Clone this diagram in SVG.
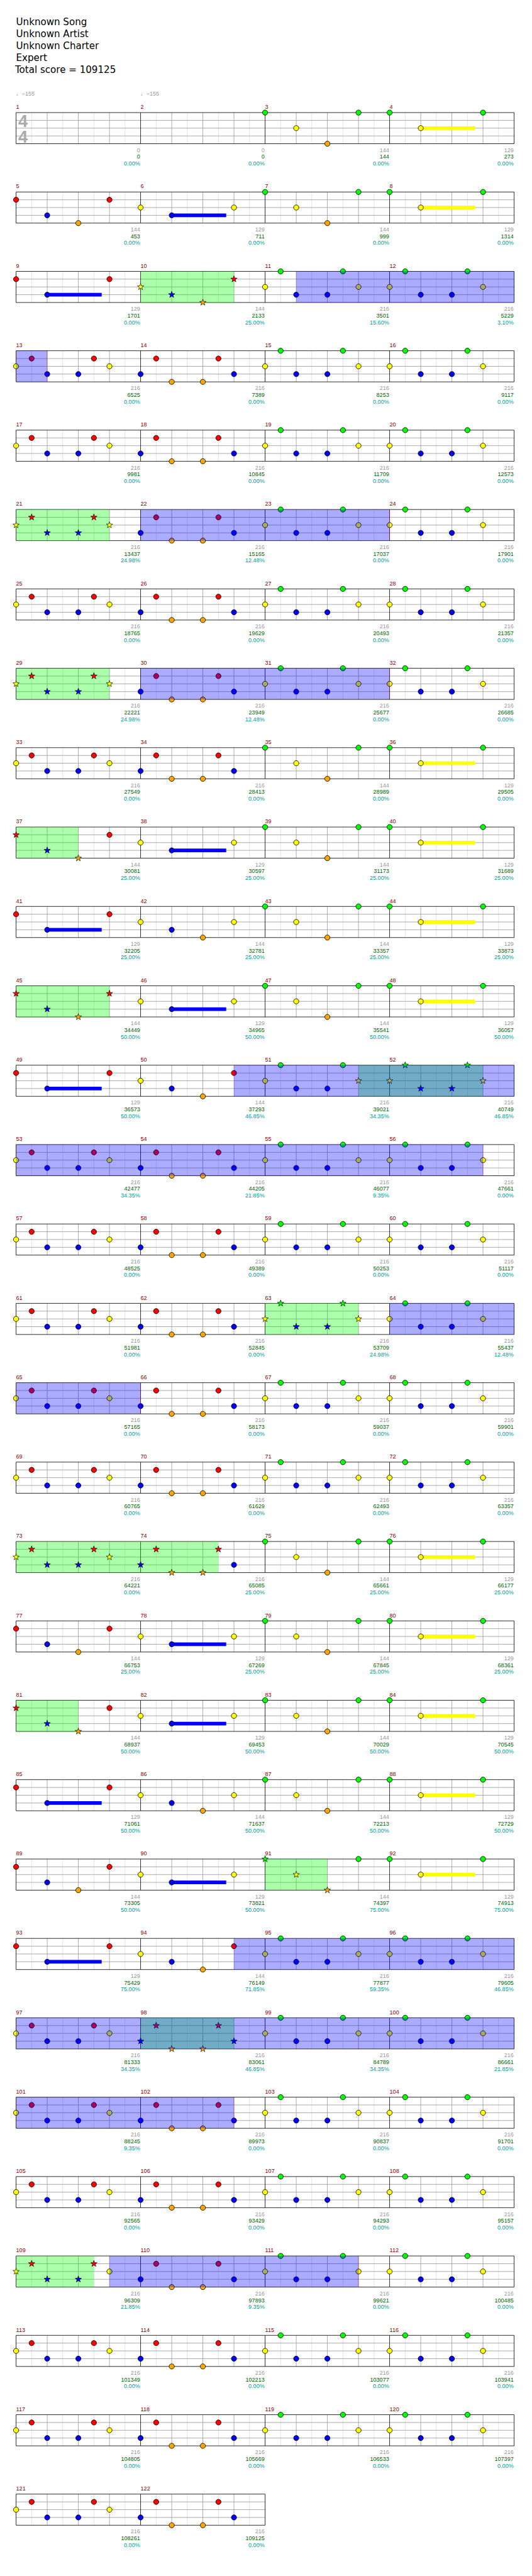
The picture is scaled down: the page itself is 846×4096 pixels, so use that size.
<svg xmlns="http://www.w3.org/2000/svg" width="846" height="4096" viewBox="0 0 846 4096">
<style>
.t{font-family:"DejaVu Sans",sans-serif;font-size:18.3px;fill:#000}
.tp{font-family:"Liberation Sans","DejaVu Sans",sans-serif;font-size:11px;fill:#999}
.ts{font-family:"Liberation Sans",Arial,sans-serif;font-size:33px;font-weight:bold;fill:#aaa}
.mn{font-family:"Liberation Sans",Arial,sans-serif;font-size:11px;fill:#8b0000}
.sc{font-family:"Liberation Sans",Arial,sans-serif;font-size:11px;text-anchor:end}
.a{fill:#999}.b{fill:#006400}.c{fill:#009999}
.G{fill:#00ff00}.R{fill:#ff0000}.Y{fill:#ffff00}.B{fill:#0000ff}.O{fill:#ffa500}
.gl{stroke:#999;stroke-width:1;fill:none}.ll{stroke:#ddd;stroke-width:1;fill:none}.bl{stroke:#000;stroke-width:1;fill:none}
.sp{fill:#00ff00;fill-opacity:.33}
.od{fill:#0000ff;fill-opacity:.33}
.oe{stroke:#ff0000;stroke-opacity:.4;stroke-width:1;fill:none}
</style>
<defs>
<g id="meas">
<path class="ll" d="M30 0V60M90 0V60M150 0V60M210 0V60"/>
<path class="gl" d="M60 0V60M120 0V60M180 0V60M0 15H240M0 30H240M0 45H240"/>
<path class="bl" d="M0 0V60M0 0H240M0 60H240"/>
</g>
<g id="row4"><use href="#meas" x="31" y="217"/><use href="#meas" x="271" y="217"/><use href="#meas" x="511" y="217"/><use href="#meas" x="751" y="217"/><path class="bl" d="M991 217V277"/></g>
<circle id="c" r="5" stroke="#000" stroke-width="1"/>
<path id="s" d="M0-6.5L1.53-2.1 6.18-2.01 2.47 .8 3.82 5.26 0 2.6-3.82 5.26-2.47 .8-6.18-2.01-1.53-2.1Z" stroke="#000" stroke-width=".8"/>
<g id="pA"><use href="#c" class="G"/><use href="#c" class="Y" x="60" y="30"/><use href="#c" class="O" x="120" y="60"/><use href="#c" class="G" x="180"/></g>
<g id="pAs"><use href="#s" class="G"/><use href="#s" class="Y" x="60" y="30"/><use href="#s" class="O" x="120" y="60"/><use href="#c" class="G" x="180"/></g>
<g id="pB"><rect class="Y" x="60" y="26.5" width="105" height="7"/><use href="#c" class="G"/><use href="#c" class="Y" x="60" y="30"/><use href="#c" class="G" x="180"/></g>
<g id="pC"><use href="#c" class="R" y="15"/><use href="#c" class="B" x="60" y="45"/><use href="#c" class="O" x="120" y="60"/><use href="#c" class="R" x="180" y="15"/></g>
<g id="pCs3"><use href="#s" class="R" y="15"/><use href="#s" class="B" x="60" y="45"/><use href="#s" class="O" x="120" y="60"/><use href="#c" class="R" x="180" y="15"/></g>
<g id="pCs"><use href="#s" class="R" y="15"/><use href="#s" class="B" x="60" y="45"/><use href="#s" class="O" x="120" y="60"/><use href="#s" class="R" x="180" y="15"/></g>
<g id="pD"><rect class="B" x="60" y="41.5" width="105" height="7"/><use href="#c" class="Y" y="30"/><use href="#c" class="B" x="60" y="45"/><use href="#c" class="Y" x="180" y="30"/></g>
<g id="pE"><rect class="B" x="60" y="41.5" width="105" height="7"/><use href="#c" class="R" y="15"/><use href="#c" class="B" x="60" y="45"/><use href="#c" class="R" x="180" y="15"/></g>
<g id="pF"><use href="#c" class="Y" y="30"/><use href="#c" class="B" x="60" y="45"/><use href="#c" class="O" x="120" y="60"/><use href="#c" class="Y" x="180" y="30"/></g>
<g id="pG"><use href="#c" class="Y" y="30"/><use href="#c" class="B" x="60" y="45"/><use href="#c" class="O" x="120" y="60"/><use href="#c" class="R" x="180" y="15"/></g>
<g id="pGs"><use href="#s" class="Y" y="30"/><use href="#s" class="B" x="60" y="45"/><use href="#s" class="O" x="120" y="60"/><use href="#s" class="R" x="180" y="15"/></g>
<g id="pX"><use href="#c" class="Y" y="30"/><use href="#c" class="R" x="30" y="15"/><use href="#c" class="B" x="60" y="45"/><use href="#c" class="B" x="120" y="45"/><use href="#c" class="R" x="150" y="15"/><use href="#c" class="Y" x="180" y="30"/></g>
<g id="pXs"><use href="#s" class="Y" y="30"/><use href="#s" class="R" x="30" y="15"/><use href="#s" class="B" x="60" y="45"/><use href="#s" class="B" x="120" y="45"/><use href="#s" class="R" x="150" y="15"/><use href="#s" class="Y" x="180" y="30"/></g>
<g id="pXs5"><use href="#s" class="Y" y="30"/><use href="#s" class="R" x="30" y="15"/><use href="#s" class="B" x="60" y="45"/><use href="#s" class="B" x="120" y="45"/><use href="#s" class="R" x="150" y="15"/><use href="#c" class="Y" x="180" y="30"/></g>
<g id="pY"><use href="#c" class="B" y="45"/><use href="#c" class="R" x="30" y="15"/><use href="#c" class="O" x="60" y="60"/><use href="#c" class="O" x="120" y="60"/><use href="#c" class="R" x="150" y="15"/><use href="#c" class="B" x="180" y="45"/></g>
<g id="pYs"><use href="#s" class="B" y="45"/><use href="#s" class="R" x="30" y="15"/><use href="#s" class="O" x="60" y="60"/><use href="#s" class="O" x="120" y="60"/><use href="#s" class="R" x="150" y="15"/><use href="#s" class="B" x="180" y="45"/></g>
<g id="pYs5"><use href="#s" class="B" y="45"/><use href="#s" class="R" x="30" y="15"/><use href="#s" class="O" x="60" y="60"/><use href="#s" class="O" x="120" y="60"/><use href="#s" class="R" x="150" y="15"/><use href="#c" class="B" x="180" y="45"/></g>
<g id="pZ"><use href="#c" class="Y" y="30"/><use href="#c" class="G" x="30"/><use href="#c" class="B" x="60" y="45"/><use href="#c" class="B" x="120" y="45"/><use href="#c" class="G" x="150"/><use href="#c" class="Y" x="180" y="30"/></g>
<g id="pZs"><use href="#s" class="Y" y="30"/><use href="#s" class="G" x="30"/><use href="#s" class="B" x="60" y="45"/><use href="#s" class="B" x="120" y="45"/><use href="#s" class="G" x="150"/><use href="#s" class="Y" x="180" y="30"/></g>
<g id="pZs6"><use href="#c" class="Y" y="30"/><use href="#c" class="G" x="30"/><use href="#c" class="B" x="60" y="45"/><use href="#c" class="B" x="120" y="45"/><use href="#c" class="G" x="150"/><use href="#s" class="Y" x="180" y="30"/></g>
</defs>
<g transform="scale(0.825)">
<rect x="0" y="0" width="1024" height="4960" fill="#fff"/>
<g id="title" class="t">
<text x="31" y="49">Unknown Song</text>
<text x="31" y="72">Unknown Artist</text>
<text x="31" y="95">Unknown Charter</text>
<text x="31" y="118">Expert</text>
<text x="29" y="141">Total score = 109125</text>
</g>
<g id="tempo" class="tp"><text x="31" y="184">♩=155</text><text x="271" y="184">♩=155</text></g>
<g id="grid">
<use href="#row4"/><use href="#row4" y="153"/><use href="#row4" y="306"/><use href="#row4" y="459"/><use href="#row4" y="612"/><use href="#row4" y="765"/><use href="#row4" y="918"/><use href="#row4" y="1071"/><use href="#row4" y="1224"/><use href="#row4" y="1377"/><use href="#row4" y="1530"/><use href="#row4" y="1683"/><use href="#row4" y="1836"/><use href="#row4" y="1989"/><use href="#row4" y="2142"/><use href="#row4" y="2295"/><use href="#row4" y="2448"/><use href="#row4" y="2601"/><use href="#row4" y="2754"/><use href="#row4" y="2907"/><use href="#row4" y="3060"/><use href="#row4" y="3213"/><use href="#row4" y="3366"/><use href="#row4" y="3519"/><use href="#row4" y="3672"/><use href="#row4" y="3825"/><use href="#row4" y="3978"/><use href="#row4" y="4131"/><use href="#row4" y="4284"/><use href="#row4" y="4437"/>
<use href="#meas" x="31" y="4807"/><use href="#meas" x="271" y="4807"/><path class="bl" d="M511 4807V4867"/>
</g>
<g id="timesig" class="ts"><text x="35" y="245">4</text><text x="35" y="275">4</text></g>
<g id="starpower">
<rect class="sp" x="271" y="523" width="180" height="60"/>
<rect class="sp" x="31" y="982" width="180" height="60"/>
<rect class="sp" x="31" y="1288" width="180" height="60"/>
<rect class="sp" x="31" y="1594" width="120" height="60"/>
<rect class="sp" x="31" y="1900" width="180" height="60"/>
<rect class="sp" x="691" y="2053" width="240" height="60"/>
<rect class="sp" x="511" y="2512" width="180" height="60"/>
<rect class="sp" x="31" y="2971" width="390" height="60"/>
<rect class="sp" x="31" y="3277" width="120" height="60"/>
<rect class="sp" x="511" y="3583" width="120" height="60"/>
<rect class="sp" x="271" y="3889" width="180" height="60"/>
<rect class="sp" x="31" y="4348" width="150" height="60"/>
</g>
<g id="notes">
<g transform="translate(0,217)"><use href="#pA" x="511"/><use href="#pB" x="751"/></g>
<g transform="translate(0,370)"><use href="#pC" x="31"/><use href="#pD" x="271"/><use href="#pA" x="511"/><use href="#pB" x="751"/></g>
<g transform="translate(0,523)"><use href="#pE" x="31"/><use href="#pGs" x="271"/><use href="#pZ" x="511"/><use href="#pZ" x="751"/></g>
<g transform="translate(0,676)"><use href="#pX" x="31"/><use href="#pY" x="271"/><use href="#pZ" x="511"/><use href="#pZ" x="751"/></g>
<g transform="translate(0,829)"><use href="#pX" x="31"/><use href="#pY" x="271"/><use href="#pZ" x="511"/><use href="#pZ" x="751"/></g>
<g transform="translate(0,982)"><use href="#pXs" x="31"/><use href="#pY" x="271"/><use href="#pZ" x="511"/><use href="#pZ" x="751"/></g>
<g transform="translate(0,1135)"><use href="#pX" x="31"/><use href="#pY" x="271"/><use href="#pZ" x="511"/><use href="#pZ" x="751"/></g>
<g transform="translate(0,1288)"><use href="#pXs" x="31"/><use href="#pY" x="271"/><use href="#pZ" x="511"/><use href="#pZ" x="751"/></g>
<g transform="translate(0,1441)"><use href="#pX" x="31"/><use href="#pY" x="271"/><use href="#pA" x="511"/><use href="#pB" x="751"/></g>
<g transform="translate(0,1594)"><use href="#pCs3" x="31"/><use href="#pD" x="271"/><use href="#pA" x="511"/><use href="#pB" x="751"/></g>
<g transform="translate(0,1747)"><use href="#pE" x="31"/><use href="#pF" x="271"/><use href="#pA" x="511"/><use href="#pB" x="751"/></g>
<g transform="translate(0,1900)"><use href="#pCs" x="31"/><use href="#pD" x="271"/><use href="#pA" x="511"/><use href="#pB" x="751"/></g>
<g transform="translate(0,2053)"><use href="#pE" x="31"/><use href="#pG" x="271"/><use href="#pZs6" x="511"/><use href="#pZs" x="751"/></g>
<g transform="translate(0,2206)"><use href="#pX" x="31"/><use href="#pY" x="271"/><use href="#pZ" x="511"/><use href="#pZ" x="751"/></g>
<g transform="translate(0,2359)"><use href="#pX" x="31"/><use href="#pY" x="271"/><use href="#pZ" x="511"/><use href="#pZ" x="751"/></g>
<g transform="translate(0,2512)"><use href="#pX" x="31"/><use href="#pY" x="271"/><use href="#pZs" x="511"/><use href="#pZ" x="751"/></g>
<g transform="translate(0,2665)"><use href="#pX" x="31"/><use href="#pY" x="271"/><use href="#pZ" x="511"/><use href="#pZ" x="751"/></g>
<g transform="translate(0,2818)"><use href="#pX" x="31"/><use href="#pY" x="271"/><use href="#pZ" x="511"/><use href="#pZ" x="751"/></g>
<g transform="translate(0,2971)"><use href="#pXs" x="31"/><use href="#pYs5" x="271"/><use href="#pA" x="511"/><use href="#pB" x="751"/></g>
<g transform="translate(0,3124)"><use href="#pC" x="31"/><use href="#pD" x="271"/><use href="#pA" x="511"/><use href="#pB" x="751"/></g>
<g transform="translate(0,3277)"><use href="#pCs3" x="31"/><use href="#pD" x="271"/><use href="#pA" x="511"/><use href="#pB" x="751"/></g>
<g transform="translate(0,3430)"><use href="#pE" x="31"/><use href="#pF" x="271"/><use href="#pA" x="511"/><use href="#pB" x="751"/></g>
<g transform="translate(0,3583)"><use href="#pC" x="31"/><use href="#pD" x="271"/><use href="#pAs" x="511"/><use href="#pB" x="751"/></g>
<g transform="translate(0,3736)"><use href="#pE" x="31"/><use href="#pG" x="271"/><use href="#pZ" x="511"/><use href="#pZ" x="751"/></g>
<g transform="translate(0,3889)"><use href="#pX" x="31"/><use href="#pYs" x="271"/><use href="#pZ" x="511"/><use href="#pZ" x="751"/></g>
<g transform="translate(0,4042)"><use href="#pX" x="31"/><use href="#pY" x="271"/><use href="#pZ" x="511"/><use href="#pZ" x="751"/></g>
<g transform="translate(0,4195)"><use href="#pX" x="31"/><use href="#pY" x="271"/><use href="#pZ" x="511"/><use href="#pZ" x="751"/></g>
<g transform="translate(0,4348)"><use href="#pXs5" x="31"/><use href="#pY" x="271"/><use href="#pZ" x="511"/><use href="#pZ" x="751"/></g>
<g transform="translate(0,4501)"><use href="#pX" x="31"/><use href="#pY" x="271"/><use href="#pZ" x="511"/><use href="#pZ" x="751"/></g>
<g transform="translate(0,4654)"><use href="#pX" x="31"/><use href="#pY" x="271"/><use href="#pZ" x="511"/><use href="#pZ" x="751"/></g>
<g transform="translate(0,4807)"><use href="#pX" x="31"/><use href="#pY" x="271"/></g>
</g>
<g id="overdrive">
<rect class="od" x="571" y="523" width="420" height="60"/>
<rect class="od" x="31" y="676" width="60" height="60"/><path class="oe" d="M91 676V736"/>
<rect class="od" x="271" y="982" width="480" height="60"/><path class="oe" d="M751 982V1042"/>
<rect class="od" x="271" y="1288" width="480" height="60"/><path class="oe" d="M751 1288V1348"/>
<rect class="od" x="451" y="2053" width="540" height="60"/>
<rect class="od" x="31" y="2206" width="900" height="60"/><path class="oe" d="M931 2206V2266"/>
<rect class="od" x="751" y="2512" width="240" height="60"/>
<rect class="od" x="31" y="2665" width="240" height="60"/><path class="oe" d="M271 2665V2725"/>
<rect class="od" x="451" y="3736" width="540" height="60"/>
<rect class="od" x="31" y="3889" width="960" height="60"/>
<rect class="od" x="31" y="4042" width="420" height="60"/><path class="oe" d="M451 4042V4102"/>
<rect class="od" x="211" y="4348" width="480" height="60"/><path class="oe" d="M691 4348V4408"/>
</g>
<g id="labels">
<g transform="translate(0,217)"><text class="mn" y="-7"><tspan x="31">1</tspan><tspan x="271">2</tspan><tspan x="511">3</tspan><tspan x="751">4</tspan></text><text class="sc a" y="76"><tspan x="270">0</tspan><tspan x="510">0</tspan><tspan x="750">144</tspan><tspan x="990">129</tspan></text><text class="sc b" y="89"><tspan x="270">0</tspan><tspan x="510">0</tspan><tspan x="750">144</tspan><tspan x="990">273</tspan></text><text class="sc c" y="102"><tspan x="270">0.00%</tspan><tspan x="510">0.00%</tspan><tspan x="750">0.00%</tspan><tspan x="990">0.00%</tspan></text></g>
<g transform="translate(0,370)"><text class="mn" y="-7"><tspan x="31">5</tspan><tspan x="271">6</tspan><tspan x="511">7</tspan><tspan x="751">8</tspan></text><text class="sc a" y="76"><tspan x="270">144</tspan><tspan x="510">129</tspan><tspan x="750">144</tspan><tspan x="990">129</tspan></text><text class="sc b" y="89"><tspan x="270">453</tspan><tspan x="510">711</tspan><tspan x="750">999</tspan><tspan x="990">1314</tspan></text><text class="sc c" y="102"><tspan x="270">0.00%</tspan><tspan x="510">0.00%</tspan><tspan x="750">0.00%</tspan><tspan x="990">0.00%</tspan></text></g>
<g transform="translate(0,523)"><text class="mn" y="-7"><tspan x="31">9</tspan><tspan x="271">10</tspan><tspan x="511">11</tspan><tspan x="751">12</tspan></text><text class="sc a" y="76"><tspan x="270">129</tspan><tspan x="510">144</tspan><tspan x="750">216</tspan><tspan x="990">216</tspan></text><text class="sc b" y="89"><tspan x="270">1701</tspan><tspan x="510">2133</tspan><tspan x="750">3501</tspan><tspan x="990">5229</tspan></text><text class="sc c" y="102"><tspan x="270">0.00%</tspan><tspan x="510">25.00%</tspan><tspan x="750">15.60%</tspan><tspan x="990">3.10%</tspan></text></g>
<g transform="translate(0,676)"><text class="mn" y="-7"><tspan x="31">13</tspan><tspan x="271">14</tspan><tspan x="511">15</tspan><tspan x="751">16</tspan></text><text class="sc a" y="76"><tspan x="270">216</tspan><tspan x="510">216</tspan><tspan x="750">216</tspan><tspan x="990">216</tspan></text><text class="sc b" y="89"><tspan x="270">6525</tspan><tspan x="510">7389</tspan><tspan x="750">8253</tspan><tspan x="990">9117</tspan></text><text class="sc c" y="102"><tspan x="270">0.00%</tspan><tspan x="510">0.00%</tspan><tspan x="750">0.00%</tspan><tspan x="990">0.00%</tspan></text></g>
<g transform="translate(0,829)"><text class="mn" y="-7"><tspan x="31">17</tspan><tspan x="271">18</tspan><tspan x="511">19</tspan><tspan x="751">20</tspan></text><text class="sc a" y="76"><tspan x="270">216</tspan><tspan x="510">216</tspan><tspan x="750">216</tspan><tspan x="990">216</tspan></text><text class="sc b" y="89"><tspan x="270">9981</tspan><tspan x="510">10845</tspan><tspan x="750">11709</tspan><tspan x="990">12573</tspan></text><text class="sc c" y="102"><tspan x="270">0.00%</tspan><tspan x="510">0.00%</tspan><tspan x="750">0.00%</tspan><tspan x="990">0.00%</tspan></text></g>
<g transform="translate(0,982)"><text class="mn" y="-7"><tspan x="31">21</tspan><tspan x="271">22</tspan><tspan x="511">23</tspan><tspan x="751">24</tspan></text><text class="sc a" y="76"><tspan x="270">216</tspan><tspan x="510">216</tspan><tspan x="750">216</tspan><tspan x="990">216</tspan></text><text class="sc b" y="89"><tspan x="270">13437</tspan><tspan x="510">15165</tspan><tspan x="750">17037</tspan><tspan x="990">17901</tspan></text><text class="sc c" y="102"><tspan x="270">24.98%</tspan><tspan x="510">12.48%</tspan><tspan x="750">0.00%</tspan><tspan x="990">0.00%</tspan></text></g>
<g transform="translate(0,1135)"><text class="mn" y="-7"><tspan x="31">25</tspan><tspan x="271">26</tspan><tspan x="511">27</tspan><tspan x="751">28</tspan></text><text class="sc a" y="76"><tspan x="270">216</tspan><tspan x="510">216</tspan><tspan x="750">216</tspan><tspan x="990">216</tspan></text><text class="sc b" y="89"><tspan x="270">18765</tspan><tspan x="510">19629</tspan><tspan x="750">20493</tspan><tspan x="990">21357</tspan></text><text class="sc c" y="102"><tspan x="270">0.00%</tspan><tspan x="510">0.00%</tspan><tspan x="750">0.00%</tspan><tspan x="990">0.00%</tspan></text></g>
<g transform="translate(0,1288)"><text class="mn" y="-7"><tspan x="31">29</tspan><tspan x="271">30</tspan><tspan x="511">31</tspan><tspan x="751">32</tspan></text><text class="sc a" y="76"><tspan x="270">216</tspan><tspan x="510">216</tspan><tspan x="750">216</tspan><tspan x="990">216</tspan></text><text class="sc b" y="89"><tspan x="270">22221</tspan><tspan x="510">23949</tspan><tspan x="750">25677</tspan><tspan x="990">26685</tspan></text><text class="sc c" y="102"><tspan x="270">24.98%</tspan><tspan x="510">12.48%</tspan><tspan x="750">0.00%</tspan><tspan x="990">0.00%</tspan></text></g>
<g transform="translate(0,1441)"><text class="mn" y="-7"><tspan x="31">33</tspan><tspan x="271">34</tspan><tspan x="511">35</tspan><tspan x="751">36</tspan></text><text class="sc a" y="76"><tspan x="270">216</tspan><tspan x="510">216</tspan><tspan x="750">144</tspan><tspan x="990">129</tspan></text><text class="sc b" y="89"><tspan x="270">27549</tspan><tspan x="510">28413</tspan><tspan x="750">28989</tspan><tspan x="990">29505</tspan></text><text class="sc c" y="102"><tspan x="270">0.00%</tspan><tspan x="510">0.00%</tspan><tspan x="750">0.00%</tspan><tspan x="990">0.00%</tspan></text></g>
<g transform="translate(0,1594)"><text class="mn" y="-7"><tspan x="31">37</tspan><tspan x="271">38</tspan><tspan x="511">39</tspan><tspan x="751">40</tspan></text><text class="sc a" y="76"><tspan x="270">144</tspan><tspan x="510">129</tspan><tspan x="750">144</tspan><tspan x="990">129</tspan></text><text class="sc b" y="89"><tspan x="270">30081</tspan><tspan x="510">30597</tspan><tspan x="750">31173</tspan><tspan x="990">31689</tspan></text><text class="sc c" y="102"><tspan x="270">25.00%</tspan><tspan x="510">25.00%</tspan><tspan x="750">25.00%</tspan><tspan x="990">25.00%</tspan></text></g>
<g transform="translate(0,1747)"><text class="mn" y="-7"><tspan x="31">41</tspan><tspan x="271">42</tspan><tspan x="511">43</tspan><tspan x="751">44</tspan></text><text class="sc a" y="76"><tspan x="270">129</tspan><tspan x="510">144</tspan><tspan x="750">144</tspan><tspan x="990">129</tspan></text><text class="sc b" y="89"><tspan x="270">32205</tspan><tspan x="510">32781</tspan><tspan x="750">33357</tspan><tspan x="990">33873</tspan></text><text class="sc c" y="102"><tspan x="270">25.00%</tspan><tspan x="510">25.00%</tspan><tspan x="750">25.00%</tspan><tspan x="990">25.00%</tspan></text></g>
<g transform="translate(0,1900)"><text class="mn" y="-7"><tspan x="31">45</tspan><tspan x="271">46</tspan><tspan x="511">47</tspan><tspan x="751">48</tspan></text><text class="sc a" y="76"><tspan x="270">144</tspan><tspan x="510">129</tspan><tspan x="750">144</tspan><tspan x="990">129</tspan></text><text class="sc b" y="89"><tspan x="270">34449</tspan><tspan x="510">34965</tspan><tspan x="750">35541</tspan><tspan x="990">36057</tspan></text><text class="sc c" y="102"><tspan x="270">50.00%</tspan><tspan x="510">50.00%</tspan><tspan x="750">50.00%</tspan><tspan x="990">50.00%</tspan></text></g>
<g transform="translate(0,2053)"><text class="mn" y="-7"><tspan x="31">49</tspan><tspan x="271">50</tspan><tspan x="511">51</tspan><tspan x="751">52</tspan></text><text class="sc a" y="76"><tspan x="270">129</tspan><tspan x="510">144</tspan><tspan x="750">216</tspan><tspan x="990">216</tspan></text><text class="sc b" y="89"><tspan x="270">36573</tspan><tspan x="510">37293</tspan><tspan x="750">39021</tspan><tspan x="990">40749</tspan></text><text class="sc c" y="102"><tspan x="270">50.00%</tspan><tspan x="510">46.85%</tspan><tspan x="750">34.35%</tspan><tspan x="990">46.85%</tspan></text></g>
<g transform="translate(0,2206)"><text class="mn" y="-7"><tspan x="31">53</tspan><tspan x="271">54</tspan><tspan x="511">55</tspan><tspan x="751">56</tspan></text><text class="sc a" y="76"><tspan x="270">216</tspan><tspan x="510">216</tspan><tspan x="750">216</tspan><tspan x="990">216</tspan></text><text class="sc b" y="89"><tspan x="270">42477</tspan><tspan x="510">44205</tspan><tspan x="750">46077</tspan><tspan x="990">47661</tspan></text><text class="sc c" y="102"><tspan x="270">34.35%</tspan><tspan x="510">21.85%</tspan><tspan x="750">9.35%</tspan><tspan x="990">0.00%</tspan></text></g>
<g transform="translate(0,2359)"><text class="mn" y="-7"><tspan x="31">57</tspan><tspan x="271">58</tspan><tspan x="511">59</tspan><tspan x="751">60</tspan></text><text class="sc a" y="76"><tspan x="270">216</tspan><tspan x="510">216</tspan><tspan x="750">216</tspan><tspan x="990">216</tspan></text><text class="sc b" y="89"><tspan x="270">48525</tspan><tspan x="510">49389</tspan><tspan x="750">50253</tspan><tspan x="990">51117</tspan></text><text class="sc c" y="102"><tspan x="270">0.00%</tspan><tspan x="510">0.00%</tspan><tspan x="750">0.00%</tspan><tspan x="990">0.00%</tspan></text></g>
<g transform="translate(0,2512)"><text class="mn" y="-7"><tspan x="31">61</tspan><tspan x="271">62</tspan><tspan x="511">63</tspan><tspan x="751">64</tspan></text><text class="sc a" y="76"><tspan x="270">216</tspan><tspan x="510">216</tspan><tspan x="750">216</tspan><tspan x="990">216</tspan></text><text class="sc b" y="89"><tspan x="270">51981</tspan><tspan x="510">52845</tspan><tspan x="750">53709</tspan><tspan x="990">55437</tspan></text><text class="sc c" y="102"><tspan x="270">0.00%</tspan><tspan x="510">0.00%</tspan><tspan x="750">24.98%</tspan><tspan x="990">12.48%</tspan></text></g>
<g transform="translate(0,2665)"><text class="mn" y="-7"><tspan x="31">65</tspan><tspan x="271">66</tspan><tspan x="511">67</tspan><tspan x="751">68</tspan></text><text class="sc a" y="76"><tspan x="270">216</tspan><tspan x="510">216</tspan><tspan x="750">216</tspan><tspan x="990">216</tspan></text><text class="sc b" y="89"><tspan x="270">57165</tspan><tspan x="510">58173</tspan><tspan x="750">59037</tspan><tspan x="990">59901</tspan></text><text class="sc c" y="102"><tspan x="270">0.00%</tspan><tspan x="510">0.00%</tspan><tspan x="750">0.00%</tspan><tspan x="990">0.00%</tspan></text></g>
<g transform="translate(0,2818)"><text class="mn" y="-7"><tspan x="31">69</tspan><tspan x="271">70</tspan><tspan x="511">71</tspan><tspan x="751">72</tspan></text><text class="sc a" y="76"><tspan x="270">216</tspan><tspan x="510">216</tspan><tspan x="750">216</tspan><tspan x="990">216</tspan></text><text class="sc b" y="89"><tspan x="270">60765</tspan><tspan x="510">61629</tspan><tspan x="750">62493</tspan><tspan x="990">63357</tspan></text><text class="sc c" y="102"><tspan x="270">0.00%</tspan><tspan x="510">0.00%</tspan><tspan x="750">0.00%</tspan><tspan x="990">0.00%</tspan></text></g>
<g transform="translate(0,2971)"><text class="mn" y="-7"><tspan x="31">73</tspan><tspan x="271">74</tspan><tspan x="511">75</tspan><tspan x="751">76</tspan></text><text class="sc a" y="76"><tspan x="270">216</tspan><tspan x="510">216</tspan><tspan x="750">144</tspan><tspan x="990">129</tspan></text><text class="sc b" y="89"><tspan x="270">64221</tspan><tspan x="510">65085</tspan><tspan x="750">65661</tspan><tspan x="990">66177</tspan></text><text class="sc c" y="102"><tspan x="270">0.00%</tspan><tspan x="510">25.00%</tspan><tspan x="750">25.00%</tspan><tspan x="990">25.00%</tspan></text></g>
<g transform="translate(0,3124)"><text class="mn" y="-7"><tspan x="31">77</tspan><tspan x="271">78</tspan><tspan x="511">79</tspan><tspan x="751">80</tspan></text><text class="sc a" y="76"><tspan x="270">144</tspan><tspan x="510">129</tspan><tspan x="750">144</tspan><tspan x="990">129</tspan></text><text class="sc b" y="89"><tspan x="270">66753</tspan><tspan x="510">67269</tspan><tspan x="750">67845</tspan><tspan x="990">68361</tspan></text><text class="sc c" y="102"><tspan x="270">25.00%</tspan><tspan x="510">25.00%</tspan><tspan x="750">25.00%</tspan><tspan x="990">25.00%</tspan></text></g>
<g transform="translate(0,3277)"><text class="mn" y="-7"><tspan x="31">81</tspan><tspan x="271">82</tspan><tspan x="511">83</tspan><tspan x="751">84</tspan></text><text class="sc a" y="76"><tspan x="270">144</tspan><tspan x="510">129</tspan><tspan x="750">144</tspan><tspan x="990">129</tspan></text><text class="sc b" y="89"><tspan x="270">68937</tspan><tspan x="510">69453</tspan><tspan x="750">70029</tspan><tspan x="990">70545</tspan></text><text class="sc c" y="102"><tspan x="270">50.00%</tspan><tspan x="510">50.00%</tspan><tspan x="750">50.00%</tspan><tspan x="990">50.00%</tspan></text></g>
<g transform="translate(0,3430)"><text class="mn" y="-7"><tspan x="31">85</tspan><tspan x="271">86</tspan><tspan x="511">87</tspan><tspan x="751">88</tspan></text><text class="sc a" y="76"><tspan x="270">129</tspan><tspan x="510">144</tspan><tspan x="750">144</tspan><tspan x="990">129</tspan></text><text class="sc b" y="89"><tspan x="270">71061</tspan><tspan x="510">71637</tspan><tspan x="750">72213</tspan><tspan x="990">72729</tspan></text><text class="sc c" y="102"><tspan x="270">50.00%</tspan><tspan x="510">50.00%</tspan><tspan x="750">50.00%</tspan><tspan x="990">50.00%</tspan></text></g>
<g transform="translate(0,3583)"><text class="mn" y="-7"><tspan x="31">89</tspan><tspan x="271">90</tspan><tspan x="511">91</tspan><tspan x="751">92</tspan></text><text class="sc a" y="76"><tspan x="270">144</tspan><tspan x="510">129</tspan><tspan x="750">144</tspan><tspan x="990">129</tspan></text><text class="sc b" y="89"><tspan x="270">73305</tspan><tspan x="510">73821</tspan><tspan x="750">74397</tspan><tspan x="990">74913</tspan></text><text class="sc c" y="102"><tspan x="270">50.00%</tspan><tspan x="510">50.00%</tspan><tspan x="750">75.00%</tspan><tspan x="990">75.00%</tspan></text></g>
<g transform="translate(0,3736)"><text class="mn" y="-7"><tspan x="31">93</tspan><tspan x="271">94</tspan><tspan x="511">95</tspan><tspan x="751">96</tspan></text><text class="sc a" y="76"><tspan x="270">129</tspan><tspan x="510">144</tspan><tspan x="750">216</tspan><tspan x="990">216</tspan></text><text class="sc b" y="89"><tspan x="270">75429</tspan><tspan x="510">76149</tspan><tspan x="750">77877</tspan><tspan x="990">79605</tspan></text><text class="sc c" y="102"><tspan x="270">75.00%</tspan><tspan x="510">71.85%</tspan><tspan x="750">59.35%</tspan><tspan x="990">46.85%</tspan></text></g>
<g transform="translate(0,3889)"><text class="mn" y="-7"><tspan x="31">97</tspan><tspan x="271">98</tspan><tspan x="511">99</tspan><tspan x="751">100</tspan></text><text class="sc a" y="76"><tspan x="270">216</tspan><tspan x="510">216</tspan><tspan x="750">216</tspan><tspan x="990">216</tspan></text><text class="sc b" y="89"><tspan x="270">81333</tspan><tspan x="510">83061</tspan><tspan x="750">84789</tspan><tspan x="990">86661</tspan></text><text class="sc c" y="102"><tspan x="270">34.35%</tspan><tspan x="510">46.85%</tspan><tspan x="750">34.35%</tspan><tspan x="990">21.85%</tspan></text></g>
<g transform="translate(0,4042)"><text class="mn" y="-7"><tspan x="31">101</tspan><tspan x="271">102</tspan><tspan x="511">103</tspan><tspan x="751">104</tspan></text><text class="sc a" y="76"><tspan x="270">216</tspan><tspan x="510">216</tspan><tspan x="750">216</tspan><tspan x="990">216</tspan></text><text class="sc b" y="89"><tspan x="270">88245</tspan><tspan x="510">89973</tspan><tspan x="750">90837</tspan><tspan x="990">91701</tspan></text><text class="sc c" y="102"><tspan x="270">9.35%</tspan><tspan x="510">0.00%</tspan><tspan x="750">0.00%</tspan><tspan x="990">0.00%</tspan></text></g>
<g transform="translate(0,4195)"><text class="mn" y="-7"><tspan x="31">105</tspan><tspan x="271">106</tspan><tspan x="511">107</tspan><tspan x="751">108</tspan></text><text class="sc a" y="76"><tspan x="270">216</tspan><tspan x="510">216</tspan><tspan x="750">216</tspan><tspan x="990">216</tspan></text><text class="sc b" y="89"><tspan x="270">92565</tspan><tspan x="510">93429</tspan><tspan x="750">94293</tspan><tspan x="990">95157</tspan></text><text class="sc c" y="102"><tspan x="270">0.00%</tspan><tspan x="510">0.00%</tspan><tspan x="750">0.00%</tspan><tspan x="990">0.00%</tspan></text></g>
<g transform="translate(0,4348)"><text class="mn" y="-7"><tspan x="31">109</tspan><tspan x="271">110</tspan><tspan x="511">111</tspan><tspan x="751">112</tspan></text><text class="sc a" y="76"><tspan x="270">216</tspan><tspan x="510">216</tspan><tspan x="750">216</tspan><tspan x="990">216</tspan></text><text class="sc b" y="89"><tspan x="270">96309</tspan><tspan x="510">97893</tspan><tspan x="750">99621</tspan><tspan x="990">100485</tspan></text><text class="sc c" y="102"><tspan x="270">21.85%</tspan><tspan x="510">9.35%</tspan><tspan x="750">0.00%</tspan><tspan x="990">0.00%</tspan></text></g>
<g transform="translate(0,4501)"><text class="mn" y="-7"><tspan x="31">113</tspan><tspan x="271">114</tspan><tspan x="511">115</tspan><tspan x="751">116</tspan></text><text class="sc a" y="76"><tspan x="270">216</tspan><tspan x="510">216</tspan><tspan x="750">216</tspan><tspan x="990">216</tspan></text><text class="sc b" y="89"><tspan x="270">101349</tspan><tspan x="510">102213</tspan><tspan x="750">103077</tspan><tspan x="990">103941</tspan></text><text class="sc c" y="102"><tspan x="270">0.00%</tspan><tspan x="510">0.00%</tspan><tspan x="750">0.00%</tspan><tspan x="990">0.00%</tspan></text></g>
<g transform="translate(0,4654)"><text class="mn" y="-7"><tspan x="31">117</tspan><tspan x="271">118</tspan><tspan x="511">119</tspan><tspan x="751">120</tspan></text><text class="sc a" y="76"><tspan x="270">216</tspan><tspan x="510">216</tspan><tspan x="750">216</tspan><tspan x="990">216</tspan></text><text class="sc b" y="89"><tspan x="270">104805</tspan><tspan x="510">105669</tspan><tspan x="750">106533</tspan><tspan x="990">107397</tspan></text><text class="sc c" y="102"><tspan x="270">0.00%</tspan><tspan x="510">0.00%</tspan><tspan x="750">0.00%</tspan><tspan x="990">0.00%</tspan></text></g>
<g transform="translate(0,4807)"><text class="mn" y="-7"><tspan x="31">121</tspan><tspan x="271">122</tspan></text><text class="sc a" y="76"><tspan x="270">216</tspan><tspan x="510">216</tspan></text><text class="sc b" y="89"><tspan x="270">108261</tspan><tspan x="510">109125</tspan></text><text class="sc c" y="102"><tspan x="270">0.00%</tspan><tspan x="510">0.00%</tspan></text></g>
</g>
</g>
</svg>
